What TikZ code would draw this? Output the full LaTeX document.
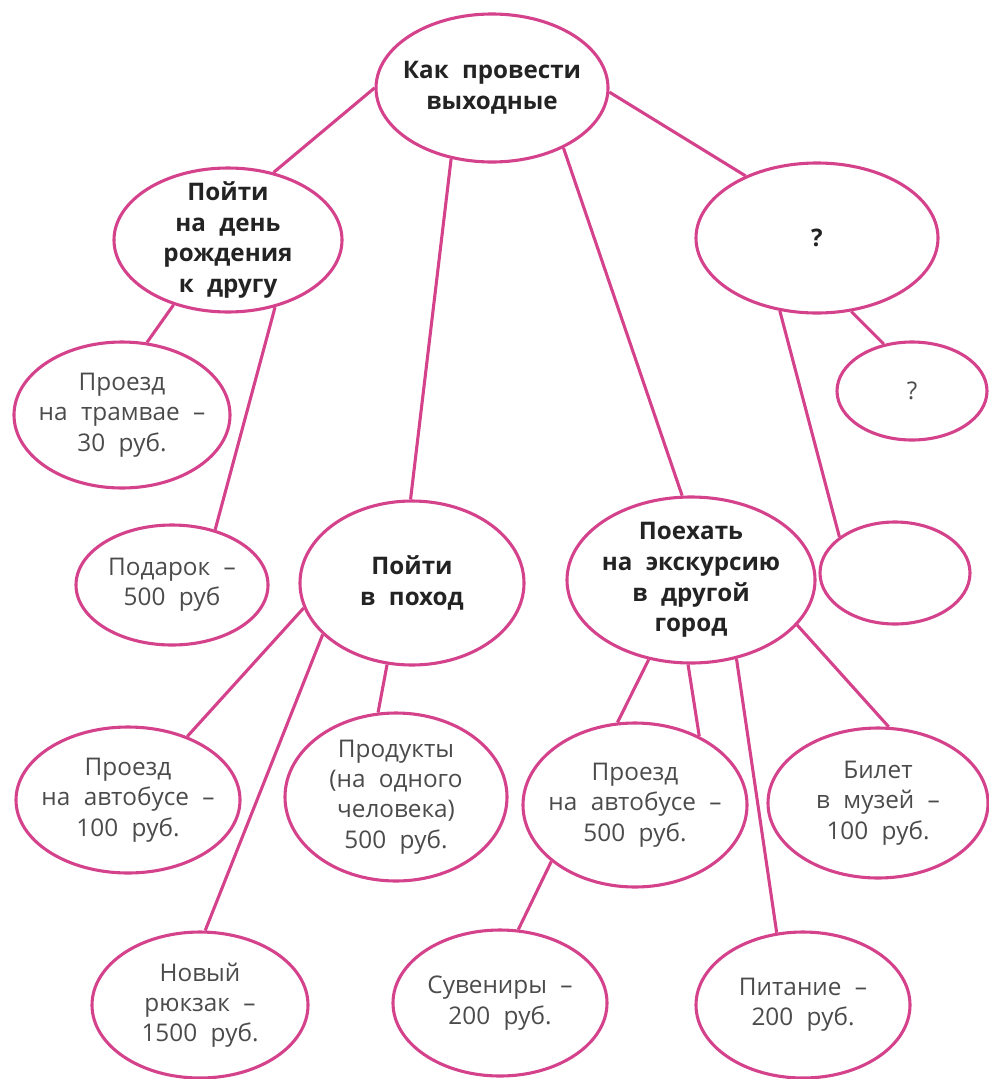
\documentclass[tikz,border=0pt]{standalone}
\usepackage{fontspec}
\setmainfont{Open Sans}
\usepackage{tikz}
\usetikzlibrary{shapes.geometric}

\definecolor{pinkline}{RGB}{213,66,140}
\definecolor{darktext}{RGB}{35,35,35}
\definecolor{greytext}{RGB}{75,75,75}
\newcommand\widegaps{\spaceskip 0.55em\relax}

\begin{document}
\begin{tikzpicture}
		[x=0.025cm,y=-0.025cm,
		main node/.style={draw=pinkline,line width=2.2pt,shape=ellipse,fill=none,inner sep=-6pt,align=center,text=greytext,font=\fontsize{17.3}{21.5}\selectfont\widegaps},
		head node/.style={main node,text=darktext,font=\bfseries\fontsize{17.2}{21.8}\selectfont\widegaps},
		link/.style={draw=pinkline,line width=2.2pt}]
		\def \px {0.025cm}
		\useasboundingbox (0,0) rectangle (988,1079);
		
		% top level
		\node[head node,minimum width=232*\px,minimum height=148*\px] (main) at (492,88) {Как провести\\выходные};
		\node[head node,minimum width=228*\px,minimum height=144*\px] (bday) at (228,240) {Пойти\\на день\\рождения\\к другу};
		\node[head node,minimum width=224*\px,minimum height=164*\px] (hike) at (412,583) {Пойти\\в поход};
		\node[head node,minimum width=248*\px,minimum height=166*\px] (trip) at (691,580) {Поехать\\на экскурсию\\в другой\\город};
		\node[head node,minimum width=242*\px,minimum height=150*\px] (q) at (817,238) {?};
		
		% costs
		\node[main node,minimum width=216*\px,minimum height=146*\px] (tram) at (122,415) {Проезд\\на трамвае –\\30 руб.};
		\node[main node,minimum width=192*\px,minimum height=120*\px] (gift) at (172,585) {Подарок –\\500 руб};
		\node[main node,minimum width=224*\px,minimum height=146*\px] (bus) at (128,800) {Проезд\\на автобусе –\\100 руб.};
		\node[main node,minimum width=222*\px,minimum height=168*\px] (food) at (396,797) {Продукты\\(на одного\\человека)\\500 руб.};
		\node[main node,minimum width=216*\px,minimum height=146*\px] (bag) at (200,1005) {Новый\\рюкзак –\\1500 руб.};
		\node[main node,minimum width=224*\px,minimum height=164*\px] (bus2) at (635,805) {Проезд\\на автобусе –\\500 руб.};
		\node[main node,minimum width=220*\px,minimum height=150*\px] (museum) at (878,803) {Билет\\в музей –\\100 руб.};
		\node[main node,minimum width=214*\px,minimum height=146*\px] (souv) at (500,1003) {Сувениры –\\200 руб.};
		\node[main node,minimum width=214*\px,minimum height=146*\px] (eat) at (803,1005) {Питание –\\200 руб.};
		\node[main node,minimum width=150*\px,minimum height=98*\px] (q1) at (912,391) {?};
		\node[main node,minimum width=150*\px,minimum height=102*\px] (q2) at (895,573) {};
		
		\draw[link] (main.180) to (bday.56);
		\draw[link] (main.240) to (hike.91);
		\draw[link] (main.320) to (trip.96);
		\draw[link] (main.358) to (q.139);
		
		\draw[link] (bday.230) to (tram.71);
		\draw[link] (bday.305) to (gift.52);
		
		\draw[link] (hike.193) to (bus.47);
		\draw[link] (hike.210) to (bag.86);
		\draw[link] (hike.253) to (food.102);
		
		\draw[link] (trip.242) to (bus2.102);
		\draw[link] (trip.268) to (bus2.47);
		\draw[link] (trip.300) to (eat.110);
		\draw[link] (trip.337) to (museum.82);
		\draw[link] (bus2.214) to (souv.76);
		
		\draw[link] (q.295) to (q1.121);
		\draw[link] (q.243) to (q2.147);
		\end{tikzpicture}
\end{document}
